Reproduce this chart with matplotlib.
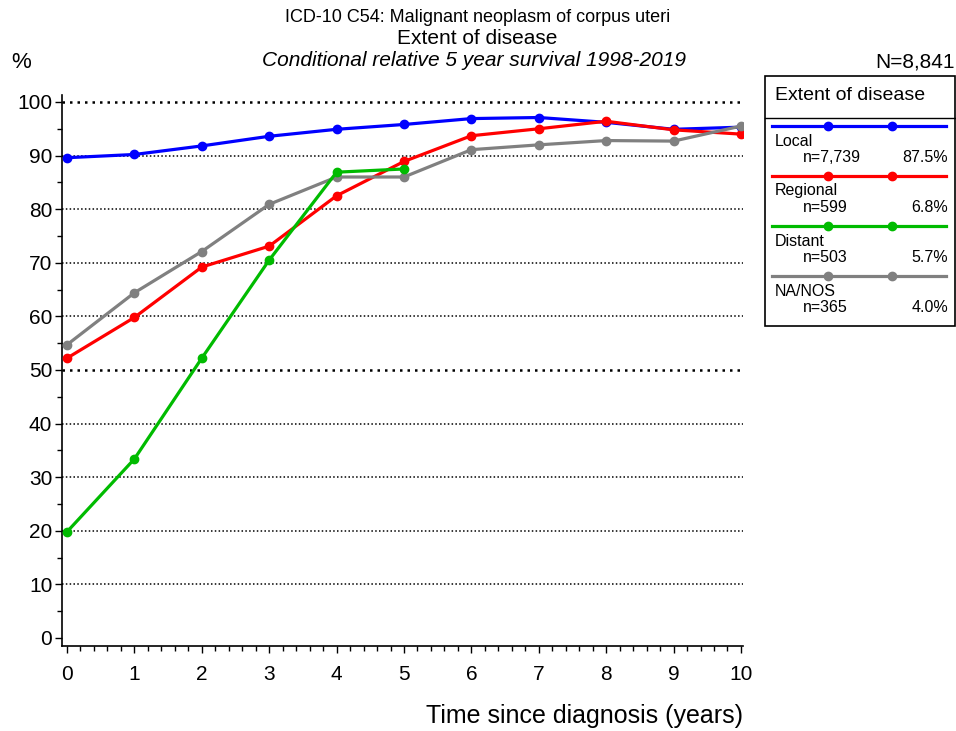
import numpy as np
import matplotlib
matplotlib.use("Agg")
import matplotlib.pyplot as plt
from matplotlib.lines import Line2D
from matplotlib.patches import Rectangle
from matplotlib.ticker import MultipleLocator

plt.rcParams["font.family"] = ["Liberation Sans", "DejaVu Sans"]

# Conditional relative 5 year survival by extent of disease
years = [0, 1, 2, 3, 4, 5, 6, 7, 8, 9, 10]
local = [89.6, 90.2, 91.8, 93.6, 94.9, 95.8, 96.9, 97.1, 96.2, 94.9, 95.3]
regional = [52.2, 59.8, 69.2, 73.1, 82.5, 88.9, 93.7, 95.0, 96.4, 94.8, 94.0]
distant = [19.8, 33.4, 52.2, 70.5, 86.9, 87.5]
na_nos = [54.7, 64.4, 72.1, 80.9, 86.0, 86.0, 91.1, 92.0, 92.8, 92.7, 95.5]

groups = ["Local", "Regional", "Distant", "NA/NOS"]
counts = ["n=7,739", "n=599", "n=503", "n=365"]
shares = ["87.5%", "6.8%", "5.7%", "4.0%"]
colors = ["#0000ff", "#ff0000", "#00bb00", "#808080"]

W, H = 956, 731
fig = plt.figure(figsize=(W / 100, H / 100), dpi=100)


def fx(px):
    return px / W


def fy(py):
    return 1 - py / H


ax = fig.add_axes([fx(62), fy(646), fx(743) - fx(62), fy(95) - fy(646)])

series = [local, regional, na_nos, distant]
scol = [colors[0], colors[1], colors[3], colors[2]]
for vals, c in zip(series, scol):
    ax.plot(years[:len(vals)], vals, color=c, lw=2.3, marker="o", ms=6,
            solid_joinstyle="round", zorder=3)

ax.set_xlim(-0.074, 10.03)
ax.set_ylim(-1.5, 101.3)

for v in range(10, 101, 10):
    bold = v in (50, 100)
    ax.axhline(v, color="black", lw=1.8 if bold else 1.1,
               ls=(0, (1, 2)) if bold else (0, (1, 1.5)), zorder=1)

ax.xaxis.set_major_locator(MultipleLocator(1))
ax.xaxis.set_minor_locator(MultipleLocator(0.2))
ax.yaxis.set_major_locator(MultipleLocator(10))
ax.yaxis.set_minor_locator(MultipleLocator(5))
ax.tick_params(which="major", length=5, width=1, labelsize=15, direction="out")
ax.tick_params(which="minor", length=3.5, width=1, direction="out")
ax.tick_params(axis="x", pad=9)
ax.tick_params(axis="y", pad=2)
ax.spines["top"].set_visible(False)
ax.spines["right"].set_visible(False)
ax.spines["left"].set_linewidth(1.2)
ax.spines["bottom"].set_linewidth(1.2)

ax.set_xlabel("Time since diagnosis (years)", fontsize=18, loc="right", labelpad=14)

fig.text(fx(478), fy(17), "ICD-10 C54: Malignant neoplasm of corpus uteri",
         ha="center", va="center", fontsize=13)
fig.text(fx(477), fy(38), "Extent of disease", ha="center", va="center", fontsize=15)
fig.text(fx(474), fy(61), "Conditional relative 5 year survival 1998-2019",
         ha="center", va="center", fontsize=15, style="italic")
fig.text(fx(11), fy(63), "%", ha="left", va="center", fontsize=16)
fig.text(fx(955), fy(62), "N=8,841", ha="right", va="center", fontsize=15)

# legend box drawn by hand
fig.patches.append(Rectangle((fx(765), fy(326)), fx(955) - fx(765), fy(76) - fy(326),
                             transform=fig.transFigure, fill=False, ec="black", lw=1.2))
fig.lines.append(Line2D([fx(765), fx(955)], [fy(118), fy(118)],
                        transform=fig.transFigure, color="black", lw=1))
fig.text(fx(775), fy(96), "Extent of disease", ha="left", va="center", fontsize=14)
for i, (g, n, s, c) in enumerate(zip(groups, counts, shares, colors)):
    yl = 126 + 50 * i
    fig.lines.append(Line2D([fx(772), fx(946)], [fy(yl), fy(yl)],
                            transform=fig.transFigure, color=c, lw=2.3))
    fig.lines.append(Line2D([fx(828), fx(892)], [fy(yl), fy(yl)],
                            transform=fig.transFigure, color=c, lw=0,
                            marker="o", ms=6))
    fig.text(fx(775), fy(yl + 15), g, ha="left", va="center", fontsize=11.5)
    fig.text(fx(803), fy(yl + 31), n, ha="left", va="center", fontsize=11.5)
    fig.text(fx(948), fy(yl + 31), s, ha="right", va="center", fontsize=11.5)

fig.savefig("out.png", dpi=100)
